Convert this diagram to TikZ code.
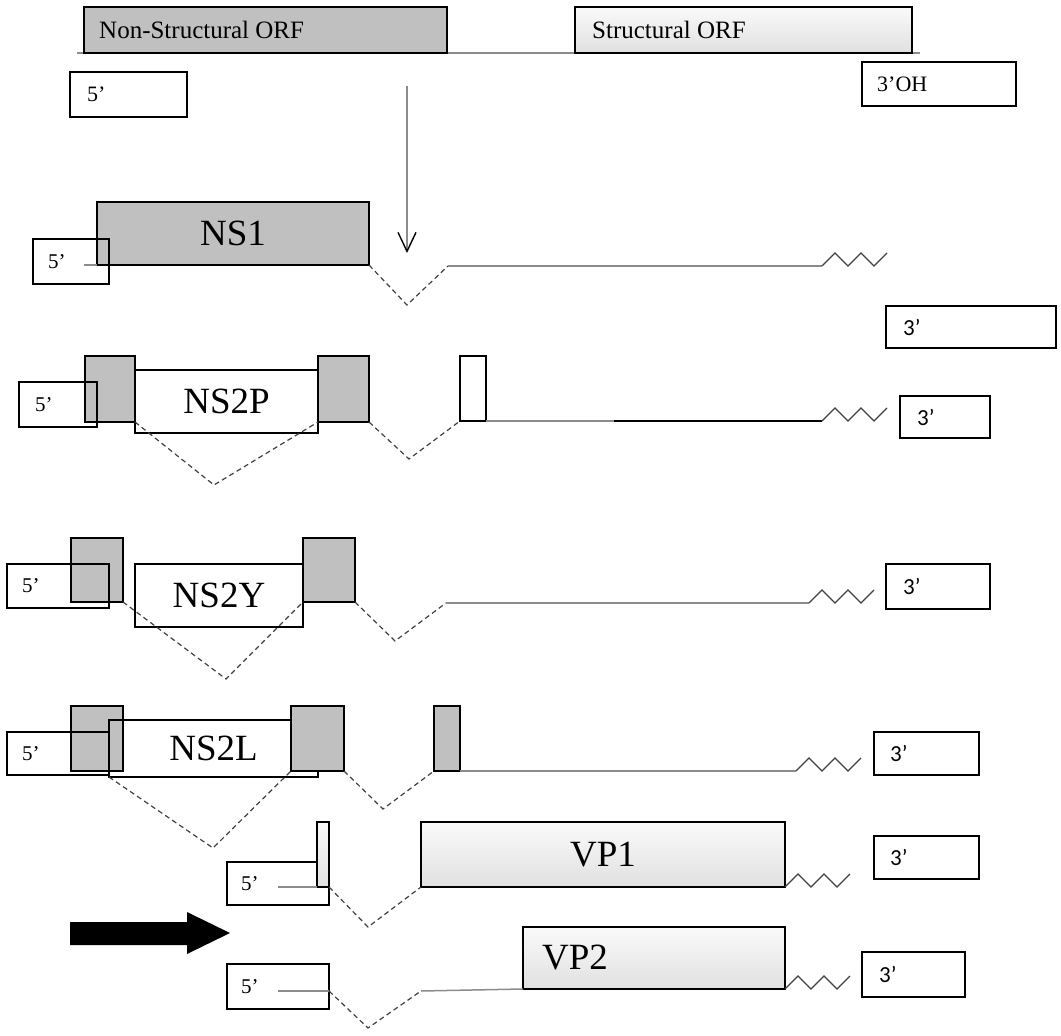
\documentclass[tikz,border=0pt]{standalone}
\usepackage{fontspec}
\setmainfont{Liberation Serif}
\newfontfamily\carl{Carlito}
\usetikzlibrary{arrows.meta}
\definecolor{gfill}{HTML}{C0C0C0}
\definecolor{bbone}{HTML}{8C8C8C}
\definecolor{zz}{HTML}{404040}
\newcommand\mybox[7]{\node[#2,minimum width={#5-#3},minimum height={#6-#4}] (#1) at (#3,#4) {#7};}
\newcommand\zig[1]{\draw[zigline] (#1) -- ++(13,-13) -- ++(13,13) -- ++(13,-13) -- ++(13,13) -- ++(13,-13);}
\begin{document}
\begin{tikzpicture}[x=1pt,y=-1pt,
  bx/.style={draw=black,line width=1.3pt,inner sep=0pt,outer sep=0pt,anchor=north west},
  gbox/.style={bx,fill=gfill},
  lbox/.style={bx,top color=white!98!black,bottom color=white!88!black},
  wbox/.style={bx},
  big/.style={font=\fontsize{37}{37}\selectfont},
  fivelbl/.style={font=\fontsize{21}{21}\selectfont,anchor=west,inner sep=0pt},
  threelbl/.style={font=\carl\fontsize{23}{23}\selectfont,anchor=west,inner sep=0pt},
  orflbl/.style={font=\fontsize{25}{25}\selectfont,anchor=west,inner sep=0pt},
  bb/.style={bbone,line width=1.5pt},
  bbk/.style={black,line width=1.5pt},
  dsh/.style={draw=zz,line width=1.2pt,dash pattern=on 5pt off 3.5pt},
  zigline/.style={zz,line width=1.3pt,line join=miter}]
\useasboundingbox (0,0) rectangle (1061,1036);

% ---------- top genome ----------
\coordinate (t0) at (77,53);
\coordinate (t1) at (920,53);
\draw[bb] (t0) -- (t1);
\mybox{nsorf}{gbox}{84}{7}{447}{53}{}
\mybox{sorf}{lbox}{575}{7}{912}{53}{}
\node[orflbl] (nsorft) at ([xshift=15pt]nsorf.west) {Non-Structural ORF};
\node[orflbl] (sorft) at ([xshift=17pt]sorf.west) {Structural ORF};
\mybox{five0}{wbox}{70}{72}{187}{117}{}
\node[fivelbl,font=\fontsize{22}{22}\selectfont] (five0t) at ([xshift=17pt]five0.west) {5’};
\mybox{oh}{wbox}{862}{62}{1016}{106}{}
\node[fivelbl,font=\fontsize{22}{22}\selectfont] (oht) at ([xshift=15pt]oh.west) {3’OH};
\coordinate (arrS) at (407,86);
\coordinate (arrE) at (407,253);
\draw[draw=bbone,line width=1.4pt,-{Straight Barb[length=19pt,width=18pt,line width=1.4pt,color=black]}] (arrS) -- (arrE);

% ---------- NS1 ----------
\mybox{ns1}{gbox,big}{97}{202}{369}{265}{NS1}
\mybox{five1}{wbox}{33}{239}{109}{284}{}
\node[fivelbl] (five1t) at ([xshift=15pt]five1.west) {5’};
\coordinate (c1a) at (84,265);
\coordinate (c1v) at (407,305);
\coordinate (c1b) at (448,266);
\coordinate (z1) at (822,266);
\draw[bb] (c1a) -- (ns1.south west);
\draw[dsh] (ns1.south east) -- (c1v) -- (c1b);
\draw[bb] (c1b) -- (z1);
\zig{z1}
\mybox{three1}{wbox}{886}{306}{1056}{348}{}
\node[threelbl] (three1t) at ([xshift=17pt]three1.west) {3’};

% ---------- NS2P ----------
\mybox{g2p1}{gbox}{85}{356}{135}{422}{}
\mybox{ns2p}{wbox,big}{135}{370}{318}{433}{NS2P}
\mybox{g2p2}{gbox}{318}{356}{369}{422}{}
\mybox{w2p}{wbox}{460}{356}{486}{421}{}
\mybox{five2}{wbox}{19}{382}{97}{427}{}
\node[fivelbl] (five2t) at ([xshift=16pt]five2.west) {5’};
\coordinate (c2v) at (214,485);
\coordinate (c2w) at (409,459);
\coordinate (c2m) at (614,421);
\coordinate (z2) at (822,421);
\draw[dsh] (g2p1.south east) -- (c2v) -- (g2p2.south west);
\draw[dsh] (g2p2.south east) -- (c2w) -- (w2p.south west);
\draw[bb] (w2p.south east) -- (c2m);
\draw[bbk,line width=1.3pt] (c2m) -- (z2);
\zig{z2}
\mybox{three2}{wbox}{900}{396}{990}{438}{}
\node[threelbl] (three2t) at ([xshift=17pt]three2.west) {3’};

% ---------- NS2Y ----------
\mybox{g2y1}{gbox}{71}{538}{123}{602}{}
\mybox{ns2y}{wbox,big}{135}{564}{303}{627}{NS2Y}
\mybox{g2y2}{gbox}{303}{538}{355}{602}{}
\mybox{five3}{wbox}{7}{564}{109}{608}{}
\node[fivelbl] (five3t) at ([xshift=15pt]five3.west) {5’};
\coordinate (c3v) at (226,679);
\coordinate (c3w) at (395,641);
\coordinate (c3b) at (446,603);
\coordinate (z3) at (809,603);
\draw[dsh] (g2y1.south east) -- (c3v) -- (g2y2.south west);
\draw[dsh] (g2y2.south east) -- (c3w) -- (c3b);
\draw[bb] (c3b) -- (z3);
\zig{z3}
\mybox{three3}{wbox}{886}{564}{990}{609}{}
\node[threelbl] (three3t) at ([xshift=17pt]three3.west) {3’};

% ---------- NS2L ----------
\mybox{g2l1}{gbox}{71}{706}{123}{771}{}
\mybox{ns2l}{wbox,big}{109}{720}{318}{777}{NS2L}
\mybox{g2l2}{gbox}{291}{706}{344}{771}{}
\mybox{g2l3}{gbox}{434}{706}{460}{771}{}
\mybox{five4}{wbox}{7}{732}{109}{775}{}
\node[fivelbl] (five4t) at ([xshift=15pt]five4.west) {5’};
\coordinate (c4v) at (213,848);
\coordinate (c4w) at (383,809);
\coordinate (z4) at (796,771);
\draw[dsh] (ns2l.south west) -- (c4v) -- (g2l2.south west);
\draw[dsh] (g2l2.south east) -- (c4w) -- (g2l3.south west);
\draw[bb] (g2l3.south east) -- (z4);
\zig{z4}
\mybox{three4}{wbox}{874}{732}{979}{775}{}
\node[threelbl] (three4t) at ([xshift=16pt]three4.west) {3’};

% ---------- VP1 ----------
\mybox{five5}{wbox}{227}{862}{329}{905}{}
\node[fivelbl] (five5t) at ([xshift=14pt]five5.west) {5’};
\mybox{wvp}{lbox}{317}{822}{329}{887}{}
\mybox{vp1}{lbox,big}{421}{822}{785}{887}{VP1}
\coordinate (c5a) at (278,887);
\coordinate (c5v) at (368,927);
\draw[bb] (c5a) -- (wvp.south west);
\draw[dsh] (wvp.south east) -- (c5v) -- (vp1.south west);
\zig{vp1.south east}
\mybox{three5}{wbox}{874}{836}{979}{879}{}
\node[threelbl] (three5t) at ([xshift=16pt]three5.west) {3’};

% ---------- VP2 ----------
\mybox{vp2}{lbox}{523}{927}{785}{989}{}
\node[big,anchor=west,inner sep=0pt] (vp2t) at ([xshift=19pt]vp2.west) {VP2};
\mybox{five6}{wbox}{227}{964}{329}{1009}{}
\node[fivelbl] (five6t) at ([xshift=14pt]five6.west) {5’};
\coordinate (c6a) at (278,991);
\coordinate (c6b) at (329,991);
\coordinate (c6v) at (368,1028);
\coordinate (c6c) at (421,991);
\draw[bb] (c6a) -- (c6b);
\draw[dsh] (c6b) -- (c6v) -- (c6c);
\draw[bb] (c6c) -- (vp2.south west);
\zig{vp2.south east}
\mybox{three6}{wbox}{862}{952}{965}{997}{}
\node[threelbl] (three6t) at ([xshift=17pt]three6.west) {3’};

% ---------- big arrow ----------
\fill[black] (70,922) -- (187,922) -- (187,912) -- (230,933) -- (187,954) -- (187,945) -- (70,945) -- cycle;
\end{tikzpicture}
\end{document}
